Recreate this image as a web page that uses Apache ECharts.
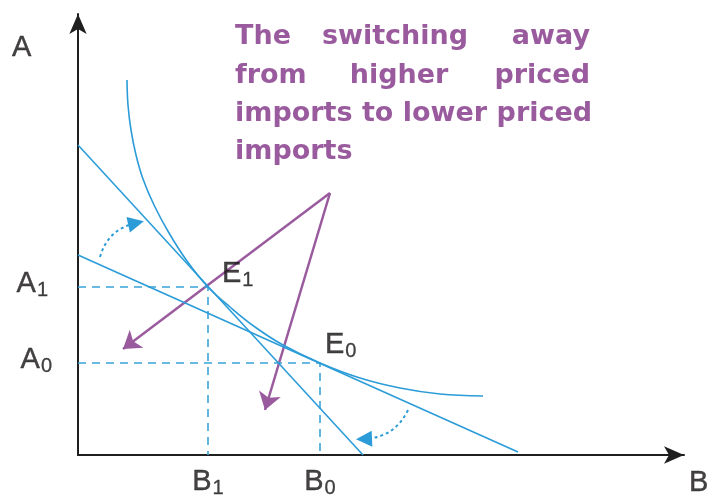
<!DOCTYPE html>
<html>
<head>
<meta charset="utf-8">
<script src="https://cdn.jsdelivr.net/npm/echarts@6/dist/echarts.min.js"></script>
<style>
  html, body { margin: 0; padding: 0; background: #ffffff; }
  #chart { width: 713px; height: 498px; }
</style>
</head>
<body>
<div id="chart"></div>
<script>
// Axis extents (quantity of B on x, quantity of A on y)
const xMax = 606;
const yMax = 441;

// Equilibrium points: E1 after the switch, E0 before it
const pointE1 = [130, 168];
const pointE0 = [242, 92];

// Budget lines (endpoints on the axes)
const budgetSteep = [[0, 310], [285, 0]];
const budgetFlat = [[0, 200], [440, 3]];

// Indifference curve, tangent to both budget lines
const indifference = [
  [49, 375], [50, 350], [53, 325], [58, 300], [65, 276], [76, 250],
  [91, 222], [109, 194], [130, 168], [152, 148], [177, 128], [205, 110],
  [242, 92], [282, 77], [322, 67], [362, 61], [405, 59]
];

// Rotation arrows showing the budget line pivoting
const pivotArrows = [
  [[22, 198], [58, 232]],
  [[330, 45], [286, 16]]
];

// Annotation pointer: apex and the two targets
const pointerApex = [252, 262];
const pointerTargets = [[45, 106], [187, 45]];

const BLUE = '#2b9cd8';
const PURPLE = '#9a5b9e';
const INK = '#141213';
const LABEL_FONT = 'Liberation Sans';

function subLabel(main, sub) {
  return '{m|' + main + '}{s|' + sub + '}';
}
const richStyles = {
  m: { fontSize: 29, fontFamily: LABEL_FONT, color: INK, lineHeight: 32, verticalAlign: 'middle',
       textBorderColor: INK, textBorderWidth: 0.4 },
  s: { fontSize: 20, fontFamily: LABEL_FONT, color: INK, lineHeight: 32, verticalAlign: 'bottom',
       padding: [0, 0, 0, 1], textBorderColor: INK, textBorderWidth: 0.3 }
};

function labelPoint(value, text, pos, dist, offset) {
  return {
    value: value,
    label: {
      show: true,
      formatter: text,
      position: pos,
      distance: dist || 0,
      offset: offset || [0, 0],
      rich: richStyles
    }
  };
}

const chart = echarts.init(document.getElementById('chart'), null, { renderer: 'canvas' });

const option = {
  animation: false,
  backgroundColor: '#ffffff',
  grid: { left: 78, right: 713 - 684, top: 14, bottom: 43 },
  xAxis: {
    type: 'value', min: 0, max: xMax,
    axisLine: { show: true, onZero: false, symbol: ['none', 'arrow'], symbolSize: [13, 20],
      lineStyle: { color: '#1f1f1f', width: 2 } },
    axisTick: { show: false }, axisLabel: { show: false }, splitLine: { show: false }
  },
  yAxis: {
    type: 'value', min: 0, max: yMax,
    axisLine: { show: true, onZero: false, symbol: ['none', 'arrow'], symbolSize: [13, 20],
      lineStyle: { color: '#1f1f1f', width: 2 } },
    axisTick: { show: false }, axisLabel: { show: false }, splitLine: { show: false }
  },
  series: [
    {
      name: 'dropE1', type: 'line', silent: true, symbol: 'none',
      data: [[0, pointE1[1]], pointE1, [pointE1[0], 0]],
      lineStyle: { color: '#3aa3da', width: 1.6, type: [8, 6] }
    },
    {
      name: 'dropE0', type: 'line', silent: true, symbol: 'none',
      data: [[0, pointE0[1]], pointE0, [pointE0[0], 0]],
      lineStyle: { color: '#3aa3da', width: 1.6, type: [8, 6] }
    },
    {
      name: 'budgetSteep', type: 'line', silent: true, symbol: 'none',
      data: budgetSteep, lineStyle: { color: BLUE, width: 1.6 }
    },
    {
      name: 'budgetFlat', type: 'line', silent: true, symbol: 'none',
      data: budgetFlat, lineStyle: { color: BLUE, width: 1.6 }
    },
    {
      name: 'indifference', type: 'line', silent: true, symbol: 'none', smooth: 0.4,
      data: indifference, lineStyle: { color: BLUE, width: 1.6 }
    },
    {
      name: 'pivot', type: 'lines', coordinateSystem: 'cartesian2d', silent: true,
      symbol: ['none', 'triangle'], symbolSize: [0, 16],
      lineStyle: { color: BLUE, width: 2, type: [3, 3], curveness: 0.3, opacity: 1 },
      data: pivotArrows.map(c => ({ coords: c }))
    },
    {
      name: 'pointer', type: 'lines', coordinateSystem: 'cartesian2d', silent: true,
      symbol: ['none', 'arrow'], symbolSize: [0, 17],
      lineStyle: { color: PURPLE, width: 2.5, opacity: 1, curveness: 0 },
      data: pointerTargets.map(t => ({ coords: [pointerApex, t] }))
    },
    {
      name: 'labels', type: 'scatter', silent: true, symbolSize: 0,
      data: [
        labelPoint([0, pointE1[1]], subLabel('A', '1'), 'left', 30, [0, -3]),
        labelPoint([0, pointE0[1]], subLabel('A', '0'), 'left', 26, [0, -3]),
        labelPoint([pointE1[0], 0], subLabel('B', '1'), 'bottom', 11),
        labelPoint([pointE0[0], 0], subLabel('B', '0'), 'bottom', 11),
        labelPoint(pointE1, subLabel('E', '1'), [14, -29]),
        labelPoint(pointE0, subLabel('E', '0'), [5, -34]),
        labelPoint([xMax, 0], '{m|B}', [5, 12]),
        labelPoint([0, yMax], '{m|A}', [-66, 18])
      ]
    }
  ],
  graphic: [
    // Note text, justified across the first two lines
    ...[
      ['The', 235, 37, 'left'], ['switching', 395, 37, 'center'], ['away', 590, 37, 'right'],
      ['from', 235, 76, 'left'], ['higher', 399, 76, 'center'], ['priced', 590, 76, 'right'],
      ['imports to lower priced', 235, 114, 'left'],
      ['imports', 235, 152, 'left']
    ].map(([t, x, y, a]) => ({
      type: 'text', x: x, y: y, silent: true,
      style: {
        text: t, fill: PURPLE, fontFamily: 'DejaVu Sans', fontWeight: 'bold',
        fontSize: 27, align: a, verticalAlign: 'middle'
      }
    }))
  ]
};

chart.setOption(option);
</script>
</body>
</html>
